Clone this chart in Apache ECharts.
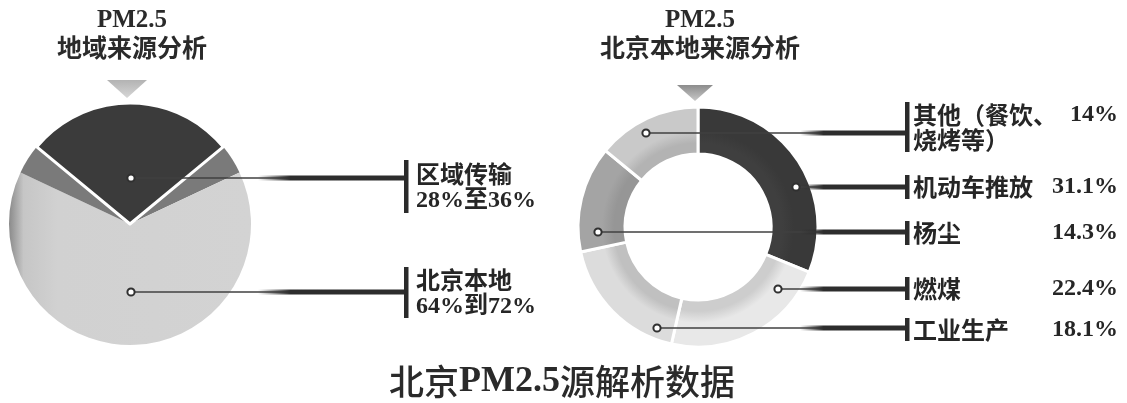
<!DOCTYPE html>
<html>
<head>
<meta charset="utf-8">
<script src="https://cdn.jsdelivr.net/npm/echarts@6/dist/echarts.min.js"></script>
<style>
  html, body { margin: 0; padding: 0; background: #fff; }
  #chart { width: 1127px; height: 403px; }
</style>
</head>
<body>
<div id="chart"></div>
<script>
// regional split (left pie)
const regionNames = ['区域传输', '北京本地']
const regionLow = [28, 64]
const regionHigh = [36, 72]
const regionJoin = ['至', '到']

// local sources (right ring), clockwise from 12 o'clock
const localNames = ['机动车推放', '燃煤', '工业生产', '杨尘', '其他（餐饮、烧烤等）']
const localValues = [31.1, 22.4, 18.1, 14.3, 14]

// layout bits, picked by eye
const leftCenter = [130, 224]
const rightCenter = [698, 227]
const leftBarX = 406
const rightBarX = 907
const leftAnchors = [
  { dot: [131, 178], bar: [160, 213], textY: 187 },
  { dot: [131, 292], bar: [267, 318], textY: 293 },
]
const rightAnchors = [
  { dot: [796, 187], bar: [175, 199], textY: 187 },
  { dot: [778, 289], bar: [277, 300], textY: 289 },
  { dot: [657, 328], bar: [318, 341], textY: 330 },
  { dot: [598, 232], bar: [221, 245], textY: 233 },
  { dot: [646, 133], bar: [102, 152], textY: 127 },
]
const ringColors = [
  ['#393939', '#3f3f3f'],
  ['#e8e8e8', '#cdcdcd'],
  ['#dcdcdc', '#c0c0c0'],
  ['#a4a4a4', '#969696'],
  ['#c9c9c9', '#b3b3b3'],
]

const cjk = '"Noto Sans CJK SC", sans-serif'
const serif = '"Liberation Serif", "Noto Sans CJK SC", serif'

const chart = echarts.init(document.getElementById('chart'))

function ringGrad(outer, inner) {
  return {
    type: 'radial', x: rightCenter[0], y: rightCenter[1], r: 120, global: true,
    colorStops: [
      { offset: 0, color: inner },
      { offset: 0.7, color: inner },
      { offset: 0.8, color: outer },
      { offset: 1, color: outer },
    ],
  }
}

function leader(a, barX, thickFrom) {
  const y = a.dot[1]
  return [
    {
      type: 'line', z: 20,
      shape: { x1: a.dot[0], y1: y, x2: barX, y2: y },
      style: { stroke: '#404040', lineWidth: 1.6 },
    },
    {
      type: 'line', z: 21,
      shape: { x1: thickFrom, y1: y, x2: barX, y2: y },
      style: {
        lineWidth: 5,
        stroke: {
          type: 'linear', x: thickFrom, y: 0, x2: barX, y2: 0, global: true,
          colorStops: [
            { offset: 0, color: 'rgba(45,45,45,0)' },
            { offset: 0.22, color: '#2d2d2d' },
            { offset: 1, color: '#2d2d2d' },
          ],
        },
      },
    },
    {
      type: 'rect', z: 22,
      shape: { x: barX - 2, y: a.bar[0], width: 4.5, height: a.bar[1] - a.bar[0] },
      style: { fill: '#2b2b2b' },
    },
    {
      type: 'circle', z: 23,
      shape: { cx: a.dot[0], cy: y, r: 3.6 },
      style: { fill: '#fff', stroke: '#303030', lineWidth: 2 },
    },
  ]
}

// left pie: band | light | band | dark (dark last so its white edge stays on top)
const band = (regionHigh[0] - regionLow[0]) / 2
const lightGrad = {
  type: 'linear', x: 0, y: 0, x2: 1, y2: 0,
  colorStops: [
    { offset: 0, color: '#8a8a8a' },
    { offset: 0.06, color: '#c6c6c6' },
    { offset: 0.2, color: '#d1d1d1' },
    { offset: 1, color: '#d3d3d3' },
  ],
}
const leftData = [
  { value: band, name: 'band-r', itemStyle: { color: '#7a7a7a' }, label: { show: false } },
  { value: regionLow[1], name: regionNames[1], idx: 1, itemStyle: { color: lightGrad } },
  { value: band, name: 'band-l', itemStyle: { color: '#7a7a7a' }, label: { show: false } },
  { value: regionLow[0], name: regionNames[0], idx: 0, itemStyle: { color: '#3b3b3b', borderColor: '#fff', borderWidth: 3 } },
]
const leftStart = 90 - (regionLow[0] / 2) * 3.6

const rightData = localNames.map((n, i) => ({
  name: n,
  value: localValues[i],
  idx: i,
  itemStyle: { color: ringGrad(ringColors[i][0], ringColors[i][1]) },
}))

const graphics = [
  {
    type: 'polygon', z: 5,
    shape: { points: [[107, 80], [147, 80], [127, 98]] },
    style: { fill: { type: 'linear', x: 0, y: 0, x2: 0, y2: 1, colorStops: [{ offset: 0, color: '#b3b3b3' }, { offset: 1, color: '#d6d6d6' }] } },
  },
  {
    type: 'polygon', z: 5,
    shape: { points: [[677, 85], [713, 85], [695, 101]] },
    style: { fill: { type: 'linear', x: 0, y: 0, x2: 0, y2: 1, colorStops: [{ offset: 0, color: '#8c8c8c' }, { offset: 1, color: '#c8c8c8' }] } },
  },
]
leftAnchors.forEach((a) => graphics.push(...leader(a, leftBarX, 258)))
rightAnchors.forEach((a) => graphics.push(...leader(a, rightBarX, 800)))

const titleRich = {
  a: { fontFamily: serif, fontWeight: 'bold', fontSize: 25, color: '#2a2a2a', lineHeight: 24, align: 'center' },
  b: { fontFamily: cjk, fontWeight: 'bold', fontSize: 25, color: '#2a2a2a', lineHeight: 28, align: 'center' },
}

const option = {
  animation: false,
  backgroundColor: '#fff',
  title: [
    { text: '{a|PM2.5}\n{b|地域来源分析}', left: 127, top: 4, textAlign: 'center', textStyle: { rich: titleRich } },
    { text: '{a|PM2.5}\n{b|北京本地来源分析}', left: 695, top: 4, textAlign: 'center', textStyle: { rich: titleRich } },
    {
      text: '{c|北京}{d|PM2.5}{c|源解析数据}', left: 557, top: 357, textAlign: 'center',
      textStyle: {
        fontWeight: 500,
        rich: {
          c: { fontFamily: cjk, fontWeight: 500, fontSize: 35, color: '#2a2a2a', lineHeight: 40 },
          d: { fontFamily: serif, fontWeight: 'bold', fontSize: 36, color: '#2a2a2a', lineHeight: 40 },
        },
      },
    },
  ],
  graphic: graphics,
  series: [
    {
      type: 'pie',
      center: leftCenter,
      radius: 121,
      startAngle: leftStart,
      avoidLabelOverlap: false,
      silent: true,
      data: leftData,
      label: {
        show: true,
        position: 'outside',
        overflow: 'none',
        formatter: (p) => {
          const i = p.data.idx
          return `{n|${regionNames[i]}}\n{v|${regionLow[i]}%${regionJoin[i]}${regionHigh[i]}%}`
        },
        rich: {
          n: { fontFamily: cjk, fontWeight: 'bold', fontSize: 24, lineHeight: 27, color: '#262626' },
          v: { fontFamily: serif, fontWeight: 'bold', fontSize: 24, lineHeight: 27, color: '#262626' },
        },
      },
      labelLine: { show: false },
      labelLayout: (p) => {
        const d = leftData[p.dataIndex]
        if (d.idx == null) return {}
        return { x: leftBarX + 10, y: leftAnchors[d.idx].textY, align: 'left', verticalAlign: 'middle' }
      },
    },
    {
      type: 'pie',
      center: rightCenter,
      radius: [73, 120],
      startAngle: 90,
      avoidLabelOverlap: false,
      silent: true,
      data: rightData,
      itemStyle: { borderColor: '#fff', borderWidth: 3 },
      label: {
        show: true,
        position: 'outside',
        overflow: 'none',
        width: 205,
        formatter: (p) => {
          const v = p.value + '%'
          if (p.name.length > 6) {
            return `{n|${p.name.slice(0, 6)}}{v|${v}}\n{n|${p.name.slice(6)}}`
          }
          return `{n|${p.name}}{v|${v}}`
        },
        rich: {
          n: { fontFamily: cjk, fontWeight: 'bold', fontSize: 24, lineHeight: 25, color: '#262626', align: 'left' },
          v: { fontFamily: serif, fontWeight: 'bold', fontSize: 24, lineHeight: 25, color: '#262626', align: 'right' },
        },
      },
      labelLine: { show: false },
      labelLayout: (p) => ({
        x: rightBarX + 6,
        y: rightAnchors[p.dataIndex].textY,
        align: 'left',
        verticalAlign: 'middle',
      }),
    },
  ],
}

chart.setOption(option)
</script>
</body>
</html>
